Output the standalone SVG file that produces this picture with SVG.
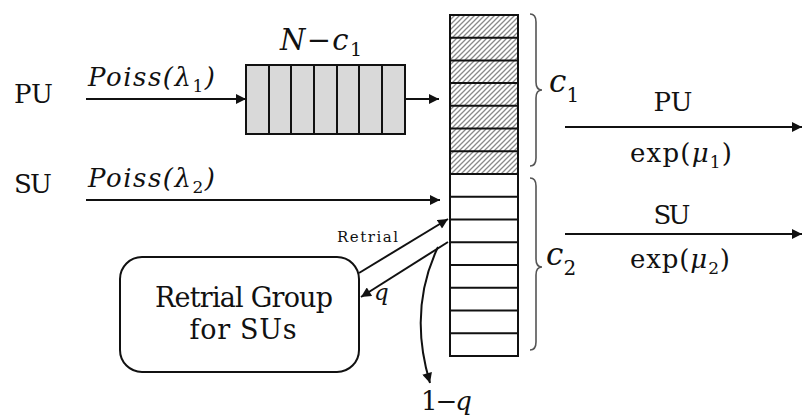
<svg xmlns="http://www.w3.org/2000/svg" width="802" height="416" viewBox="0 0 802 416">
<defs>
<pattern id="hatch" patternUnits="userSpaceOnUse" x="0" y="0" width="5" height="5">
<rect width="5" height="5" fill="#fff"/>
<path d="M0,5 L5,0 M-1,1 L1,-1 M4,6 L6,4" stroke="#8a8a8a" stroke-width="1.3"/>
</pattern>
<marker id="ah" viewBox="0 0 10 10" refX="10" refY="5" markerWidth="11" markerHeight="10" markerUnits="userSpaceOnUse" orient="auto">
<path d="M0,0 L10,5 L0,10 z" fill="#111"/>
</marker>
</defs>
<rect width="802" height="416" fill="#fff"/>

<g id="labels-left" fill="#111">
<text font-family="DejaVu Serif" x="14" y="103" font-size="26" textLength="39">PU</text>
<text font-family="DejaVu Serif" x="14" y="193" font-size="26" textLength="38">SU</text>
<text font-family="DejaVu Serif" font-style="italic" x="88" y="86" font-size="26" textLength="127">Poiss(&#955;<tspan font-size="17" dy="6" font-style="normal">1</tspan><tspan dy="-6">)</tspan></text>
<text font-family="DejaVu Serif" font-style="italic" x="88" y="187" font-size="26" textLength="127">Poiss(&#955;<tspan font-size="17" dy="6" font-style="normal">2</tspan><tspan dy="-6">)</tspan></text>
</g>

<g id="queue" stroke="#111" stroke-width="2">
<rect x="246" y="65" width="159" height="69" fill="#d9d9d9"/>
<path fill="none" d="M269,65V134M291,65V134M314,65V134M337,65V134M359,65V134M382,65V134"/>
<text font-family="DejaVu Serif" font-style="italic" stroke="none" fill="#111" x="280" y="50" font-size="29" textLength="82">N<tspan font-style="normal">&#8722;</tspan>c<tspan font-size="19" dy="6" font-style="normal">1</tspan></text>
</g>

<g id="servers" stroke="#111" stroke-width="2">
<rect x="450" y="15" width="68" height="159" fill="url(#hatch)"/>
<rect x="450" y="174" width="68" height="182" fill="#fff"/>
<path fill="none" d="M450,37.7H518M450,60.4H518M450,83.1H518M450,105.8H518M450,128.6H518M450,151.3H518M450,174H518M450,196.7H518M450,219.5H518M450,242.2H518M450,265H518M450,287.7H518M450,310.4H518M450,333.2H518"/>
</g>

<g id="brace-c1" fill="#111">
<path stroke="#555" stroke-width="1.6" fill="none" d="M530,14 Q536,14 536,22 L536,82 Q536,90 542,90 Q536,90 536,98 L536,158 Q536,166 530,166"/>
<text font-family="DejaVu Serif" font-style="italic" x="549" y="92" font-size="31">c<tspan font-size="20" dy="10" font-style="normal">1</tspan></text>
</g>
<g id="brace-c2" fill="#111">
<path stroke="#555" stroke-width="1.6" fill="none" d="M530,178 Q536,178 536,186 L536,259 Q536,267 542,267 Q536,267 536,275 L536,342 Q536,350 530,350"/>
<text font-family="DejaVu Serif" font-style="italic" x="546" y="265" font-size="31">c<tspan font-size="20" dy="10" font-style="normal">2</tspan></text>
</g>

<g id="retrial-group" fill="#111">
<rect x="120" y="257" width="239" height="115" rx="22" fill="#fff" stroke="#111" stroke-width="2"/>
<text font-family="DejaVu Serif" x="244" y="307" font-size="27" text-anchor="middle" textLength="178">Retrial Group</text>
<text font-family="DejaVu Serif" x="243" y="339" font-size="27" text-anchor="middle" textLength="107">for SUs</text>
</g>

<g id="outputs" fill="#111">
<text font-family="DejaVu Serif" x="673" y="111" font-size="26" text-anchor="middle" textLength="39">PU</text>
<text font-family="DejaVu Serif" x="681" y="162" font-size="26" text-anchor="middle" textLength="102">exp(<tspan font-style="italic">&#956;</tspan><tspan font-size="17" dy="6">1</tspan><tspan dy="-6">)</tspan></text>
<text font-family="DejaVu Serif" x="672" y="224" font-size="26" text-anchor="middle" textLength="37">SU</text>
<text font-family="DejaVu Serif" x="680" y="268" font-size="26" text-anchor="middle" textLength="100">exp(<tspan font-style="italic">&#956;</tspan><tspan font-size="17" dy="6">2</tspan><tspan dy="-6">)</tspan></text>
</g>

<g id="connectors" stroke="#111" stroke-width="2" fill="none">
<line x1="86" y1="99" x2="246" y2="99" marker-end="url(#ah)"/>
<line x1="405" y1="99" x2="439" y2="99" marker-end="url(#ah)"/>
<line x1="86" y1="200" x2="440" y2="200" marker-end="url(#ah)"/>
<line x1="565" y1="127" x2="802" y2="127" marker-end="url(#ah)"/>
<line x1="565" y1="234" x2="802" y2="234" marker-end="url(#ah)"/>
<line x1="359" y1="273" x2="448" y2="219" marker-end="url(#ah)"/>
<line x1="448" y1="242" x2="361" y2="297" marker-end="url(#ah)"/>
<path d="M438,247 Q408,310 430,383" marker-end="url(#ah)"/>
<text font-family="DejaVu Serif" stroke="none" fill="#111" x="337" y="242" font-size="15" textLength="61">Retrial</text>
<text font-family="DejaVu Serif" font-style="italic" stroke="none" fill="#111" x="374" y="300" font-size="23">q</text>
<text font-family="DejaVu Serif" stroke="none" fill="#111" x="421" y="410" font-size="26" textLength="51">1&#8722;<tspan font-style="italic">q</tspan></text>
</g>
</svg>
